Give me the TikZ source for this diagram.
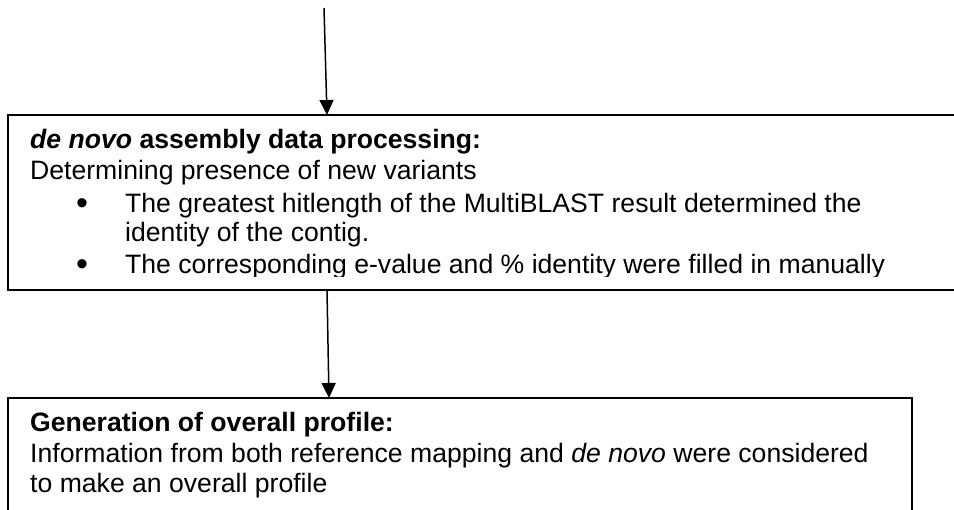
\documentclass[tikz,border=0pt]{standalone}
\usepackage{fontspec}
\setmainfont{Liberation Sans}
\usetikzlibrary{arrows.meta,calc}
\begin{document}
\begin{tikzpicture}[x=1pt,y=-1pt,
  box/.style={draw, line width=2pt, inner sep=0pt, outer sep=0pt, anchor=north west},
  txt/.style={anchor=base west, inner sep=0pt, font=\fontsize{26.6}{31}\selectfont},
  bul/.style={anchor=center, inner sep=0pt, font=\fontsize{34}{34}\selectfont},
  arr/.style={line width=1.5pt, -{Triangle[length=15pt,width=14pt]}}]
\useasboundingbox (0,0) rectangle (954,510);
\clip (0,0) rectangle (954,510);
\node[box, minimum width=962pt, minimum height=175pt] (b1) at (8,115) {};
\node[box, minimum width=904pt, minimum height=140pt] (b2) at (8,398) {};
\coordinate (s) at (324,8);
\draw[arr] (s) -- ([xshift=319pt]b1.north west);
\draw[arr] ([xshift=319pt]b1.south west) -- ([xshift=321pt]b2.north west);
\node[txt] (t1) at (30,149) {\textbf{\textit{de novo} assembly data processing:}};
\node[txt] (t2) at (30,180) {Determining presence of new variants};
\node[bul] (d1) at (82,207) {•};
\node[txt] (t3) at (125,213) {The greatest hitlength of the MultiBLAST result determined the};
\node[txt] (t4) at (125,242) {identity of the contig.};
\begin{scope}
\clip (8,115) rectangle (954,277);
\node[bul] (d2) at (82,268) {•};
\node[txt] (t5) at (125,274) {The corresponding e-value and \% identity were filled in manually};
\end{scope}
\node[txt] (t6) at (30,432) {\textbf{Generation of overall profile:}};
\node[txt] (t7) at (30,463) {Information from both reference mapping and \textit{de novo} were considered};
\node[txt] (t8) at (30,493) {to make an overall profile};
\end{tikzpicture}
\end{document}
